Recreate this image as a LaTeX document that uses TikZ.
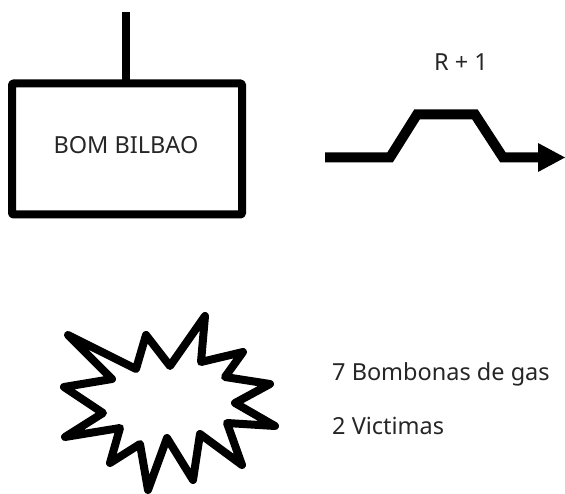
\documentclass[tikz,border=0pt]{standalone}
\usepackage{fontspec}
\setmainfont{Noto Sans}
\usetikzlibrary{arrows.meta}
\tikzset{
  pxfont/.style={font=\fontsize{23.5}{28}\selectfont, text=black!85, inner sep=0pt, anchor=base},
  heavy/.style={draw=black, line width=8pt, line join=round}
}
\begin{document}
\begin{tikzpicture}[x=1pt,y=-1pt]
\useasboundingbox (0,0) rectangle (565,494);
\node[heavy, fill=white, minimum width=230pt, minimum height=131pt, inner sep=0pt, outer sep=0pt, rounded corners=1pt] (box) at (127,149) {};
\node[pxfont] (boxlabel) at (126,154) {BOM BILBAO};
\coordinate (stemtop) at (126,12);
\draw[line width=8pt] (stemtop) -- (stemtop |- box.north);
\node[pxfont] (rlabel) at (461,71) {R + 1};
\coordinate (sa) at (325,157.5);
\coordinate (sb) at (390,157.5);
\coordinate (sc) at (417,114.5);
\coordinate (sd) at (475,114.5);
\coordinate (se) at (503,157.5);
\coordinate (sf) at (565,157.5);
\draw[line width=10pt, line join=miter, -{Triangle[length=27pt,width=29pt,line width=0pt]}] (sa) -- (sb) -- (sc) -- (sd) -- (se) -- (sf);
\draw[line width=8pt, line join=round, fill=white]
 (68,335) -- (136,369) -- (146,335) -- (170,366) -- (205,316) -- (201,362) -- (243,352) -- (225,377) -- (270,384) -- (235,403) -- (275,426) -- (227,423) -- (242,465) -- (200,434) -- (193,480) -- (167,438) -- (148,490) -- (140,444) -- (110,463) -- (120,428) -- (65,437) -- (103,413) -- (64,387) -- (112,379) -- cycle;
\node[pxfont, anchor=base west] (gas) at (332,380) {7 Bombonas de gas};
\node[pxfont, anchor=base west] (vict) at (332,434) {2 Victimas};
\end{tikzpicture}
\end{document}
